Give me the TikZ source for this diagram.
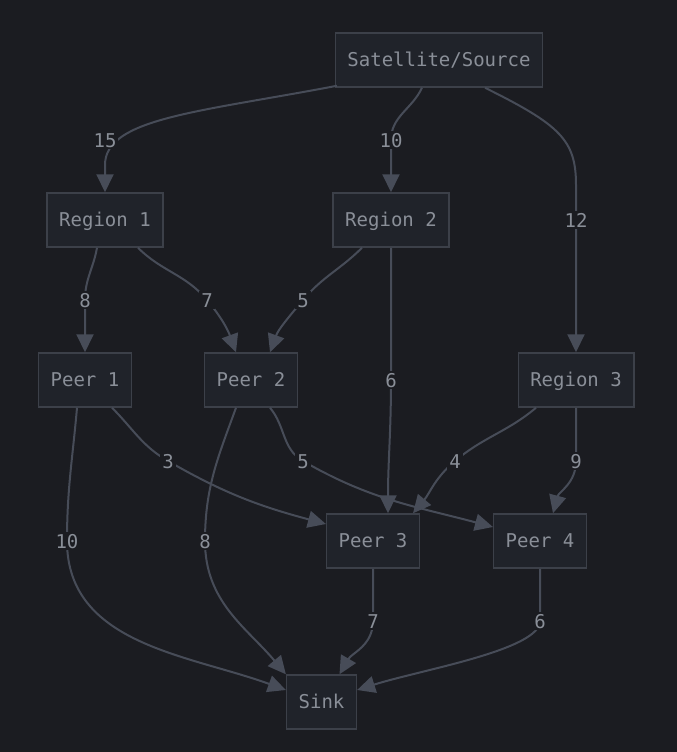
\documentclass[tikz,border=0pt]{standalone}
\usepackage{fontspec}
\setmonofont{DejaVu Sans Mono}
\usetikzlibrary{arrows.meta}

\definecolor{bgc}{HTML}{1B1C21}
\definecolor{boxfill}{HTML}{20232A}
\definecolor{boxline}{HTML}{3C4049}
\definecolor{edgec}{HTML}{474C58}
\definecolor{txt}{HTML}{8A8F98}

\tikzset{
  box/.style = {draw = boxline, fill = boxfill, line width = 1.5pt, text = txt,
                font = \fontsize{19}{21}\selectfont\ttfamily, inner xsep = 12pt,
                minimum height = 54pt, text height = 16pt, text depth = 3pt},
  edge/.style = {draw = edgec, line width = 2pt, -{Triangle[length = 18pt, width = 17pt]}},
  lbl/.style = {fill = bgc, text = txt, inner sep = 2pt, text height = 14pt, text depth = 0pt,
                font = \fontsize{19}{21}\selectfont\ttfamily}
}

\begin{document}
\begin{tikzpicture}[x = 1pt, y = -1pt]
	 \fill[bgc] (0, 0) rectangle (677, 752);
	 \useasboundingbox (0, 0) rectangle (677, 752);

	 \node[box] (src) at (439, 60) {Satellite/Source};
	 \node[box] (r1) at (105, 220) {Region 1};
	 \node[box] (r2) at (391, 220) {Region 2};
	 \node[box] (r3) at (576, 380) {Region 3};
	 \node[box] (p1) at (85, 380) {Peer 1};
	 \node[box] (p2) at (251, 380) {Peer 2};
	 \node[box] (p3) at (373, 541) {Peer 3};
	 \node[box] (p4) at (540, 541) {Peer 4};
	 \node[box] (sink) at (321.5, 702) {Sink};

	 % label spots
	 \coordinate (c15) at (105, 140);
	 \coordinate (c10) at (391, 140);
	 \coordinate (c12) at (576, 220);
	 \coordinate (c8a) at (85, 300);
	 \coordinate (c7a) at (207, 300);
	 \coordinate (c5a) at (303, 300);
	 \coordinate (c6a) at (391, 380);
	 \coordinate (c4) at (455, 461);
	 \coordinate (c9) at (576, 461);
	 \coordinate (c3) at (168, 461);
	 \coordinate (c5b) at (303, 461);
	 \coordinate (c10b) at (67, 541);
	 \coordinate (c8b) at (205, 541);
	 \coordinate (c7b) at (373, 621);
	 \coordinate (c6b) at (540, 621);

	 \draw[edge] ([xshift = -102pt, yshift = 2pt]src.south) .. controls (200, 112) and (105, 118) .. (105, 165) -- (r1.north);
	 \draw[edge] ([xshift = -17pt]src.south) to[out = -115, in = 90] (c10) -- (r2.north);
	 \draw[edge] ([xshift = 46pt]src.south) .. controls (560, 125) and (576, 140) .. (576, 185) -- (r3.north);

	 \draw[edge] ([xshift = -8pt]r1.south) to[out = -100, in = 90] (c8a) -- (p1.north);
	 \draw[edge] ([xshift = 33pt]r1.south) to[out = -45, in = 130] (c7a) to[out = -50, in = 110] ([xshift = -15pt]p2.north);
	 \draw[edge] ([xshift = -29pt]r2.south) to[out = -135, in = 50] (c5a) to[out = -130, in = 70] ([xshift = 19pt]p2.north);
	 \draw[edge] (r2.south) -- (c6a) to[out = -90, in = 90] ([xshift = 15pt]p3.north);
	 \draw[edge] ([xshift = -40pt]r3.south) to[out = -140, in = 40] (c4) to[out = -140, in = 50] ([xshift = 40pt]p3.north);
	 \draw[edge] (r3.south) -- (c9) to[out = -90, in = 75] ([xshift = 13pt]p4.north);

	 \draw[edge] ([xshift = 27pt]p1.south) to[out = -45, in = 150] (c3) to[out = -30, in = 165] ([yshift = 17pt]p3.west);
	 \draw[edge] ([xshift = 19pt]p2.south) to[out = -50, in = 150] (c5b) to[out = -30, in = 165] ([yshift = 14pt]p4.west);
	 \draw[edge] ([xshift = -8pt]p1.south) to[out = -95, in = 90] (c10b) to[out = -90, in = 160] ([yshift = 12pt]sink.west);
	 \draw[edge] ([xshift = -15pt]p2.south) to[out = -110, in = 90] (c8b) to[out = -90, in = 130] (sink.north west);
	 \draw[edge] (p3.south) -- (c7b) to[out = -90, in = 60] ([xshift = 18pt]sink.north);
	 \draw[edge] (p4.south) -- (c6b) .. controls (540, 650) and (420, 670) .. ([yshift = 12pt]sink.east);

	 \node[lbl] (l15) at (c15) {15};
	 \node[lbl] (l10) at (c10) {10};
	 \node[lbl] (l12) at (c12) {12};
	 \node[lbl] (l8a) at (c8a) {8};
	 \node[lbl] (l7a) at (c7a) {7};
	 \node[lbl] (l5a) at (c5a) {5};
	 \node[lbl] (l6a) at (c6a) {6};
	 \node[lbl] (l4) at (c4) {4};
	 \node[lbl] (l9) at (c9) {9};
	 \node[lbl] (l3) at (c3) {3};
	 \node[lbl] (l5b) at (c5b) {5};
	 \node[lbl] (l10b) at (c10b) {10};
	 \node[lbl] (l8b) at (c8b) {8};
	 \node[lbl] (l7b) at (c7b) {7};
	 \node[lbl] (l6b) at (c6b) {6};
\end{tikzpicture}
\end{document}
